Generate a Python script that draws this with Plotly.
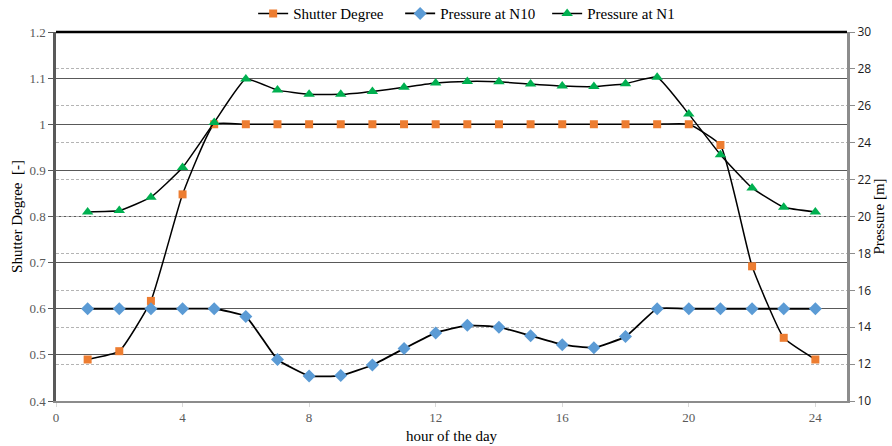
import plotly.graph_objects as go

hours = list(range(1, 25))
shutter_degree = [0.49, 0.508, 0.617, 0.848, 1.0, 1.0, 1.0, 1.0, 1.0, 1.0, 1.0, 1.0,
                  1.0, 1.0, 1.0, 1.0, 1.0, 1.0, 1.0, 1.0, 0.955, 0.692, 0.537, 0.49]
pressure_n10 = [15.0, 15.0, 15.0, 15.0, 15.0, 14.58, 12.25, 11.36, 11.38, 11.95, 12.84, 13.69,
                14.1, 14.0, 13.54, 13.05, 12.89, 13.49, 15.0, 15.0, 15.0, 15.0, 15.0, 15.0]
pressure_n1 = [20.25, 20.32, 21.05, 22.65, 25.1, 27.45, 26.85, 26.63, 26.62, 26.78, 27.0, 27.23,
               27.32, 27.3, 27.18, 27.07, 27.04, 27.2, 27.55, 25.55, 23.35, 21.55, 20.5, 20.25]

font_family = "Liberation Serif"
tick_color = "#595959"
smooth = 0.4

fig = go.Figure()
fig.add_trace(go.Scatter(
    x=hours, y=shutter_degree, name="Shutter Degree", mode="lines+markers",
    line=dict(color="black", width=1.5, shape="spline", smoothing=smooth),
    marker=dict(symbol="square", size=8, color="#ED7D31"),
    yaxis="y"))
fig.add_trace(go.Scatter(
    x=hours, y=pressure_n10, name="Pressure at N10", mode="lines+markers",
    line=dict(color="black", width=1.8, shape="spline", smoothing=smooth),
    marker=dict(symbol="diamond", size=10, color="#5B9BD5"),
    yaxis="y2"))
fig.add_trace(go.Scatter(
    x=hours, y=pressure_n1, name="Pressure at N1", mode="lines+markers",
    line=dict(color="black", width=1.5, shape="spline", smoothing=smooth),
    marker=dict(symbol="triangle-up", size=10, color="#00B050"),
    yaxis="y2"))

fig.update_layout(
    width=892, height=446,
    margin=dict(l=56, r=45, t=32, b=45, autoexpand=False),
    paper_bgcolor="white", plot_bgcolor="white",
    font=dict(family=font_family, size=13, color="black"),
    showlegend=True,
    legend=dict(orientation="h", x=0.528, xanchor="center", y=1.005, yanchor="bottom",
                font=dict(family=font_family, size=15, color="black"),
                itemwidth=30, tracegroupgap=0, bgcolor="rgba(0,0,0,0)",
                entrywidth=102, entrywidthmode="pixels"),
    xaxis=dict(range=[0, 25], tickvals=[0, 4, 8, 12, 16, 20, 24],
               showgrid=False, zeroline=False,
               showline=True, linecolor="#8c8c8c", linewidth=1.5,
               ticks="outside", ticklen=4, tickcolor="#d9d9d9",
               tickfont=dict(family=font_family, size=13, color=tick_color),
               title=dict(text="hour of the day", standoff=6,
                          font=dict(family=font_family, size=15, color="black"))),
    yaxis=dict(range=[0.4, 1.2], zeroline=False,
               tickvals=[0.4, 0.5, 0.6, 0.7, 0.8, 0.9, 1.0, 1.1, 1.2],
               ticktext=["0.4", "0.5", "0.6", "0.7", "0.8", "0.9", "1", "1.1", "1.2"],
               showgrid=True, gridcolor="#595959", gridwidth=1.3,
               showline=True, linecolor="#595959", linewidth=2.5,
               ticks="outside", ticklen=5, tickcolor="#595959",
               tickfont=dict(family=font_family, size=13, color=tick_color),
               title=dict(text="Shutter Degree  [-]", standoff=4,
                          font=dict(family=font_family, size=15, color="black"))),
    yaxis2=dict(range=[10, 30], dtick=2, tick0=10, overlaying="y", side="right",
                showgrid=True, gridcolor="#b4b4b4", gridwidth=1, griddash="3px,2px",
                zeroline=False,
                showline=True, linecolor="#8c8c8c", linewidth=3,
                ticks="outside", ticklen=5, tickcolor="#8c8c8c",
                tickfont=dict(family="Open Sans", size=12, color="#1a1a1a"),
                title=dict(text="Pressure [m]", standoff=2,
                           font=dict(family=font_family, size=15, color="black"))),
    shapes=[dict(type="line", xref="paper", yref="paper", x0=0, x1=1, y0=1, y1=1,
                 line=dict(color="black", width=2.5))],
)

fig.write_html("out.html", config={"displayModeBar": False},
               post_script="document.body.style.margin='0';document.body.style.overflow='hidden';")
